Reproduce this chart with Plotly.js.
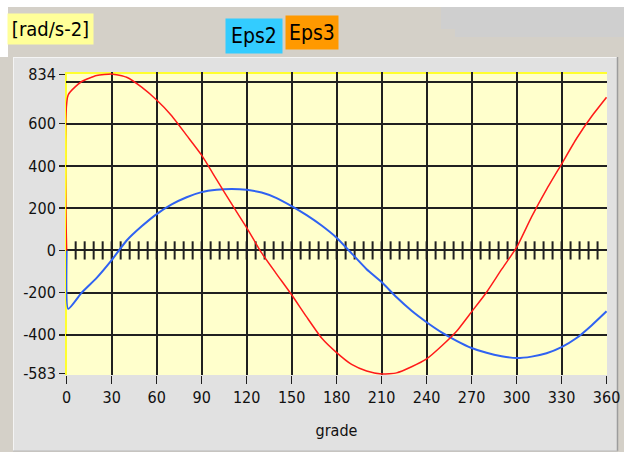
<!DOCTYPE html>
<html>
<head>
<meta charset="utf-8">
<script src="https://cdn.plot.ly/plotly-3.0.1.min.js"></script>
<style>
  html, body { margin: 0; padding: 0; background: #ffffff; }
  #chart { width: 624px; height: 455px; }
</style>
</head>
<body>
<div id="chart"></div>
<script>
// Crank angle in degrees
const grade = [0, 1, 10, 20, 30, 40, 50, 60, 70, 80, 90, 100, 110, 120, 130, 140, 150, 160, 170, 180,
               190, 200, 210, 220, 230, 240, 250, 260, 270, 280, 290, 300, 310, 320, 330, 340, 350, 360];

// Angular accelerations [rad/s-2]
const eps2 = [0, -277, -200, -130, -46, 47, 114, 172, 218, 252, 276, 287, 291, 287, 274, 248, 210, 167, 118, 60,
              -14, -89, -150, -222, -286, -340, -388, -428, -462, -485, -501, -510, -503, -487, -458, -415, -355, -288];
const eps3 = [0, 736, 800, 828, 836, 820, 773, 712, 638, 545, 451, 335, 220, 108, -12, -112, -210, -315, -415, -484,
              -540, -571, -585, -580, -551, -514, -453, -383, -291, -198, -90, 14, 159, 289, 409, 530, 634, 725];

// Axis ticks, labels and grid positions
const xTickVals = [0, 30, 60, 90, 120, 150, 180, 210, 240, 270, 300, 330, 360];
const xGridVals = [30, 60, 90, 120, 150, 180, 210, 240, 270, 300, 330];
const yTickVals = [834, 600, 400, 200, 0, -200, -400, -583];
const yTickText = ['834', '600', '400', '200', '0', '-200', '-400', '-583'];
const yGridVals = [800, 600, 400, 200, 0, -200, -400];
// Small division marks along the zero line
const minorDeg = [6, 12, 18, 24, 30, 36, 42, 48, 54, 60, 66, 72, 78, 84, 90, 96, 102, 108, 114, 120,
                  126, 132, 138, 144, 150, 156, 162, 168, 174, 180, 186, 192, 198, 204, 210, 216, 222, 228,
                  234, 240, 246, 252, 258, 264, 270, 276, 282, 288, 294, 300, 306, 312, 318, 324, 330, 336,
                  342, 348, 354];
const minorZero = minorDeg.map(() => 0);

const FONT = '"Liberation Sans Narrow", "Arial Narrow", "DejaVu Sans Condensed", sans-serif';
const INK = '#202020';

// plot-area geometry in pixels
const L = 66, R = 607, T = 72, B = 375;
const W = R - L, H = B - T;
const px = p => (p - L) / W;
const py = p => (B - p) / H;

function rect(x0, y0, x1, y1, fill, line) {
  return { type: 'rect', xref: 'paper', yref: 'paper', layer: 'below',
           x0: px(x0), x1: px(x1), y0: py(y0), y1: py(y1),
           fillcolor: fill, line: line || { width: 0 } };
}
function seg(x0, y0, x1, y1, color, width) {
  return { type: 'line', xref: 'paper', yref: 'paper', layer: 'below',
           x0: px(x0), x1: px(x1), y0: py(y0), y1: py(y1),
           line: { color: color, width: width } };
}

const xRange = [-0.45, 360.3];
const yRange = [-590, 845];

const traces = [
  {
    x: minorDeg, y: minorZero, xaxis: 'x', yaxis: 'y',
    type: 'scatter', mode: 'markers', hoverinfo: 'skip', showlegend: false,
    marker: { symbol: 'line-ns-open', size: 13, color: INK, line: { width: 2, color: INK } }
  },
  {
    x: grade, y: eps2, xaxis: 'x2', yaxis: 'y2', name: 'Eps2',
    type: 'scatter', mode: 'lines', showlegend: false,
    line: { color: '#2f62f2', width: 2, shape: 'spline', smoothing: 0.5 }
  },
  {
    x: grade, y: eps3, xaxis: 'x2', yaxis: 'y2', name: 'Eps3',
    type: 'scatter', mode: 'lines', showlegend: false,
    line: { color: '#ff1a1a', width: 1.5, shape: 'spline', smoothing: 0.5 }
  }
];

const layout = {
  width: 624, height: 455,
  margin: { l: L, r: 624 - R, t: T, b: 455 - B },
  paper_bgcolor: '#d4d0c8',
  plot_bgcolor: '#ffffcc',
  showlegend: false,
  font: { family: FONT, size: 16, color: '#111111' },
  xaxis: {
    range: xRange, tickvals: xTickVals, ticks: 'outside', ticklen: 8, tickwidth: 1.5,
    tickcolor: INK, showgrid: false, zeroline: false, showline: false,
    tickfont: { family: FONT, size: 16, color: '#111111' },
    title: { text: 'grade', font: { family: FONT, size: 16, color: '#111111' }, standoff: 18 },
    fixedrange: true
  },
  yaxis: {
    range: yRange, tickvals: yTickVals, ticktext: yTickText, ticks: 'outside', ticklen: 6,
    tickwidth: 1.5, tickcolor: INK, showgrid: false, zeroline: false, showline: false,
    tickfont: { family: FONT, size: 16, color: '#111111' }, fixedrange: true
  },
  xaxis2: {
    overlaying: 'x', range: xRange, tickvals: xGridVals, showticklabels: false, ticks: '',
    showgrid: true, gridcolor: INK, gridwidth: 2, zeroline: false, showline: false, fixedrange: true
  },
  yaxis2: {
    overlaying: 'y', range: yRange, tickvals: yGridVals, showticklabels: false, ticks: '',
    showgrid: true, gridcolor: INK, gridwidth: 2, zeroline: false, showline: false, fixedrange: true
  },
  shapes: [
    // window frame
    rect(0, 0, 624, 7, '#ffffff'),
    rect(0, 0, 8, 57, '#ffffff'),
    rect(0, 452, 624, 455, '#ffffff'),
    { type: 'path', xref: 'paper', yref: 'paper', layer: 'below', fillcolor: '#cfcfcf', line: { width: 0 },
      path: 'M' + px(441) + ',' + py(7) + ' L' + px(624) + ',' + py(7) + ' L' + px(624) + ',' + py(37) +
            ' L' + px(455) + ',' + py(37) + ' L' + px(455) + ',' + py(29) + ' L' + px(441) + ',' + py(29) + ' Z' },
    // chart panel
    rect(13, 57, 618, 451, '#e1e1e1'),
    seg(13, 57.5, 618, 57.5, '#f4f4f4', 1),
    seg(13.5, 57, 13.5, 451, '#f4f4f4', 1),
    seg(617.5, 57, 617.5, 451, '#9c9c9c', 1.5),
    seg(13, 451, 618, 451, '#b8b8b8', 1),
    // plot area
    rect(L, T, R, B, '#ffffcc'),
    seg(L, T + 1, R, T + 1, '#ffff2e', 2),
    seg(L, T, L, B, '#ffff2e', 2)
  ],
  annotations: [
    { xref: 'paper', yref: 'paper', x: px(50.5), y: py(29), xanchor: 'center', yanchor: 'middle',
      text: '[rad/s-2]', showarrow: false, bgcolor: '#ffff99', width: 85, height: 30, borderpad: 0,
      font: { family: FONT, size: 20, color: '#000000' } },
    { xref: 'paper', yref: 'paper', x: px(254), y: py(36), xanchor: 'center', yanchor: 'middle',
      text: 'Eps2', showarrow: false, bgcolor: '#33ccff', width: 56, height: 34, borderpad: 0,
      font: { family: FONT, size: 21, color: '#000000' } },
    { xref: 'paper', yref: 'paper', x: px(312), y: py(32.5), xanchor: 'center', yanchor: 'middle',
      text: 'Eps3', showarrow: false, bgcolor: '#ff9900', width: 52, height: 33, borderpad: 0,
      font: { family: FONT, size: 21, color: '#000000' } }
  ]
};

Plotly.newPlot('chart', traces, layout, { staticPlot: true, displayModeBar: false });
</script>
</body>
</html>
